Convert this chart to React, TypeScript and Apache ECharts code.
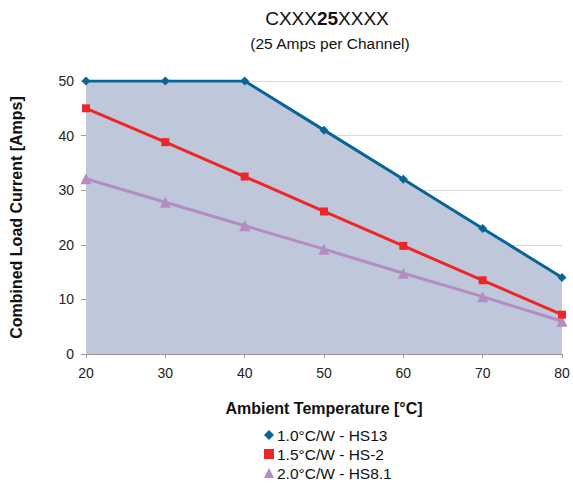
import React, { useEffect, useRef } from "react";
import * as echarts from "echarts";

const temperatures = [20, 30, 40, 50, 60, 70, 80];
const hs13 = [50, 50, 50, 41, 32, 23, 14];
const hs2 = [45, 38.8, 32.5, 26.1, 19.8, 13.5, 7.2];
const hs81 = [32.1, 27.8, 23.5, 19.2, 14.8, 10.5, 6];
const seriesNames = ["1.0°C/W - HS13", "1.5°C/W - HS-2", "2.0°C/W - HS8.1"];

const FONT = "Liberation Sans, Arial, sans-serif";

export default function App() {
  const ref = useRef<HTMLDivElement>(null);
  useEffect(() => {
    if (!ref.current) return;
    const chart = echarts.init(ref.current, undefined, { renderer: "svg" });
    const pair = (vals: number[]) => temperatures.map((t, i) => [t, vals[i]]);
    chart.setOption({
      animation: false,
      backgroundColor: "#ffffff",
      textStyle: { fontFamily: FONT },
      title: [
        {
          text: "{n|CXXX}{b|25}{n|XXXX}",
          left: 322,
          textAlign: "center",
          top: 4,
          textStyle: {
            rich: {
              n: { fontSize: 19, fontWeight: "normal", fontFamily: FONT, color: "#111" },
              b: { fontSize: 19, fontWeight: "bold", fontFamily: FONT, color: "#111" },
            },
          },
        },
        {
          text: "(25 Amps per Channel)",
          left: 325,
          textAlign: "center",
          top: 30,
          textStyle: { fontSize: 15.5, fontWeight: "normal", fontFamily: FONT, color: "#111" },
        },
      ],
      legend: {
        orient: "vertical",
        left: 264,
        top: 427,
        height: 59,
        itemWidth: 10,
        itemHeight: 10,
        itemGap: 3,
        padding: 0,
        textStyle: { fontSize: 15.5, lineHeight: 16, color: "#111", fontFamily: FONT, padding: [0, 0, 0, -2] },
        data: [
          { name: seriesNames[0], icon: "diamond" },
          { name: seriesNames[1], icon: "rect" },
          { name: seriesNames[2], icon: "triangle" },
        ],
      },
      grid: { left: 82, right: 11, top: 81, bottom: 132 },
      xAxis: {
        type: "value",
        min: 20,
        max: 80,
        interval: 10,
        name: "Ambient Temperature [°C]",
        nameLocation: "middle",
        nameGap: 46,
        nameTextStyle: { fontSize: 16, fontWeight: "bold", color: "#111", fontFamily: FONT },
        axisLine: { lineStyle: { color: "#999", width: 1 } },
        axisTick: { show: true, length: 4, lineStyle: { color: "#999" } },
        axisLabel: { fontSize: 14, color: "#222", margin: 12, fontFamily: FONT },
        splitLine: { show: false },
      },
      yAxis: {
        type: "value",
        min: 0,
        max: 50,
        interval: 10,
        name: "Combined Load Current [Amps]",
        nameLocation: "middle",
        nameGap: 62,
        nameTextStyle: { fontSize: 16, fontWeight: "bold", color: "#111", fontFamily: FONT },
        axisLine: { show: true, lineStyle: { color: "#555", width: 1 } },
        axisTick: { show: true, length: 5, lineStyle: { color: "#999" } },
        axisLabel: { fontSize: 14, color: "#222", margin: 12, fontFamily: FONT },
        splitLine: { show: true, lineStyle: { color: "#d9d9d9", width: 1 } },
      },
      series: [
        {
          name: seriesNames[0],
          type: "line",
          data: pair(hs13),
          symbol: "diamond",
          symbolSize: 9,
          color: "#0a6496",
          lineStyle: { width: 3, color: "#0a6496" },
          itemStyle: { color: "#0a6496" },
          areaStyle: { color: "#bfc8db", opacity: 1 },
          z: 1,
        },
        {
          name: seriesNames[1],
          type: "line",
          data: pair(hs2),
          symbol: "rect",
          symbolSize: 8,
          color: "#ee2626",
          lineStyle: { width: 3, color: "#ee2626" },
          itemStyle: { color: "#ee2626" },
          z: 3,
        },
        {
          name: seriesNames[2],
          type: "line",
          data: pair(hs81),
          symbol: "triangle",
          symbolSize: 11,
          color: "#b48cc4",
          lineStyle: { width: 3, color: "#b48cc4" },
          itemStyle: { color: "#b48cc4" },
          z: 2,
        },
      ],
    });
    return () => chart.dispose();
  }, []);
  return (
    <div
      ref={ref}
      style={{ position: "fixed", left: 0, top: 0, width: 573, height: 486 }}
    />
  );
}
